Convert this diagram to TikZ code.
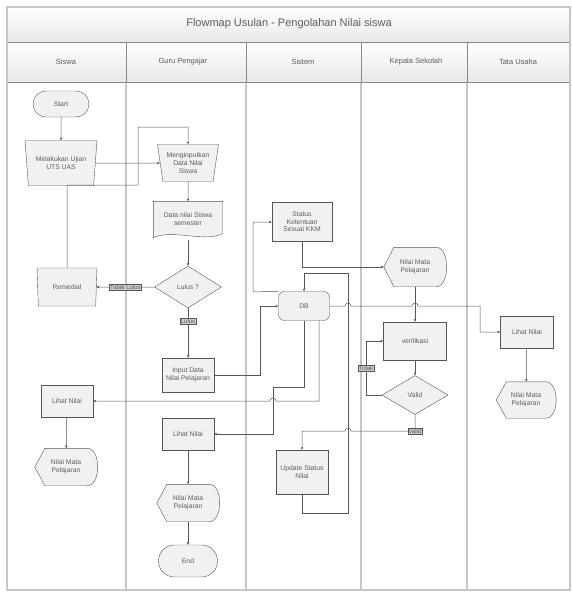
\documentclass[tikz,border=0pt]{standalone}
\usepackage{fontspec}
\setmainfont{Liberation Sans}
\usetikzlibrary{shapes,arrows.meta,backgrounds}

\definecolor{lanegrey}{HTML}{C6C6C6}
\definecolor{boxline}{HTML}{555555}
\definecolor{boxfill}{HTML}{F1F1F1}
\definecolor{txtgrey}{HTML}{5C5C5C}
\definecolor{headfill}{HTML}{E8E8E8}

% outline of a display symbol round a node
\newcommand{\dispshape}[1]{%
  \draw[draw=boxline,fill=boxfill] (#1.west) -- ([xshift=10pt]#1.north west)
    -- ([xshift=-10pt]#1.north east)
    .. controls ([xshift=4pt]#1.north east) and ([xshift=4pt]#1.south east) .. ([xshift=-10pt]#1.south east)
    -- ([xshift=10pt]#1.south west) -- cycle;}
% outline of a document symbol round a node
\newcommand{\docshape}[1]{%
  \draw[draw=boxline,fill=boxfill] (#1.north west) -- (#1.north east) -- ([yshift=3pt]#1.south east)
    .. controls ([xshift=-20pt,yshift=-6pt]#1.south east) and ([xshift=20pt,yshift=8pt]#1.south west) .. ([yshift=-1pt]#1.south west) -- cycle;}

\begin{document}
\begin{tikzpicture}[x=1pt,y=-1pt,
  every node/.style={text=txtgrey,font=\fontsize{6.8}{7.6}\selectfont,align=center},
  proc/.style={draw=boxline,fill=boxfill,rectangle,inner sep=0.5pt},
  term/.style={draw=boxline,fill=boxfill,rounded rectangle,inner sep=1pt},
  manop/.style={draw=boxline,fill=boxfill,trapezium,trapezium angle=75,shape border rotate=180,trapezium stretches body=true,inner sep=0pt},
  decision/.style={draw=boxline,fill=boxfill,diamond,inner sep=0pt},
  store/.style={draw=boxline,fill=boxfill,rectangle,rounded corners=6pt,inner sep=1pt},
  disp/.style={rectangle,inner sep=0pt},
  lbl/.style={draw=boxline,fill=boxfill!85!black,rectangle,inner sep=0.8pt,font=\fontsize{6}{6.5}\selectfont},
  flow/.style={draw=boxline,line width=0.5pt,-{Stealth[length=3pt,width=2.6pt]}}]

  \useasboundingbox (0,0) rectangle (572,592);

  % Swimlanes and heading
  \shade[top color=white,bottom color=headfill] (7,7) rectangle (570,42);
  \shade[top color=white,bottom color=headfill] (7,42) rectangle (570,82);
  \foreach \x in {126,246,361,467}
    \draw[lanegrey,line width=1.3pt] (\x,82) -- (\x,590);
  \foreach \x in {126,246,361,467}
    \draw[boxline!70] (\x,42) -- (\x,82);
  \draw[boxline!70] (7,42) -- (570,42);
  \draw[boxline!70] (7,82) -- (570,82);
  \draw[lanegrey,line width=1.3pt] (7,7) rectangle (570,590);

  \node[font=\fontsize{11}{13}\selectfont] (title) at (289,24) {Flowmap Usulan - Pengolahan Nilai siswa};
  \node[font=\fontsize{7.5}{9}\selectfont] (hsiswa) at (66,62) {Siswa};
  \node[font=\fontsize{7.5}{9}\selectfont] (hguru) at (183,62) {Guru Pengajar};
  \node[font=\fontsize{7.5}{9}\selectfont] (hsistem) at (303,62) {Sistem};
  \node[font=\fontsize{7.5}{9}\selectfont] (hkepsek) at (416,62) {Kepala Sekolah};
  \node[font=\fontsize{7.5}{9}\selectfont] (htu) at (518,62) {Tata Usaha};

  % Specification of nodes (position, etc.)
  \node[term,minimum width=58pt,minimum height=26pt] (start) at (61,104) {Start};
  \node[manop,minimum width=72pt,minimum height=45pt] (ujian) at (61,163) {Melakukan Ujian\\UTS UAS};
  \node[manop,minimum width=61pt,minimum height=37pt] (input) at (188,163) {Menginputkan\\Data Nilai\\Siswa};
  \node[disp,minimum width=69pt,minimum height=35pt] (datanilai) at (188,219) {Data nilai Siswa\\semester};
  \node[decision,minimum width=67pt,minimum height=42pt] (lulus) at (188,287) {Lulus ?};
  \node[manop,minimum width=60pt,minimum height=38pt] (remedial) at (67,287) {Remedial};
  \node[proc,minimum width=52pt,minimum height=34pt] (inputdata) at (188,375) {Input Data\\Nilai Pelajaran};
  \node[store,minimum width=51pt,minimum height=29pt] (db) at (304,306) {DB};
  \node[proc,minimum width=60pt,minimum height=39pt] (status) at (302,222) {Status\\Ketentuan\\Sesuai KKM};
  \node[disp,minimum width=62pt,minimum height=39pt] (nilaiks) at (415,267) {Nilai Mata\\Pelajaran};
  \node[proc,minimum width=63pt,minimum height=38pt] (verif) at (415,341) {verifikasi};
  \node[decision,minimum width=66pt,minimum height=39pt] (valid) at (415,395) {Valid};
  \node[proc,minimum width=52pt,minimum height=44pt] (update) at (302,472) {Update Status\\Nilai};
  \node[proc,minimum width=52pt,minimum height=32pt] (lihatsw) at (67,401) {Lihat Nilai};
  \node[disp,minimum width=62pt,minimum height=37pt] (nilaisw) at (66,467) {Nilai Mata\\Pelajaran};
  \node[proc,minimum width=52pt,minimum height=32pt] (lihatgr) at (188,434) {Lihat Nilai};
  \node[disp,minimum width=62pt,minimum height=37pt] (nilaigr) at (188,503) {Nilai Mata\\Pelajaran};
  \node[term,minimum width=61pt,minimum height=32pt] (finish) at (188,561) {End};
  \node[proc,minimum width=53pt,minimum height=32pt] (lihattu) at (527,332) {Lihat Nilai};
  \node[disp,minimum width=59pt,minimum height=36pt] (nilaitu) at (526,400) {Nilai Mata\\Pelajaran};

  \begin{scope}[on background layer]
    \docshape{datanilai}
    \dispshape{nilaiks}
    \dispshape{nilaisw}
    \dispshape{nilaigr}
    \dispshape{nilaitu}
  \end{scope}

  \begin{scope}[flow]
    \draw (start) -- (ujian);
    \draw (ujian.east) -- (input.west);
    \draw (remedial.north) |- (138,185) |- (188,127) -- (input.north);
    \draw (input) -- (datanilai);
    \draw ([yshift=-3pt]datanilai.south) -- (lulus);
    \draw (lulus.west) -- node[lbl]{Tidak Lulus} (remedial.east);
    \draw (lulus.south) -- node[lbl,pos=0.27]{Lulus} (inputdata.north);
    \draw (inputdata.east) -- (260,375) |- (db.west);
    \draw (db.north west) -- (253,292) |- (status.west);
    \draw (status.south) |- (nilaiks.west);
    \draw (update.south) -- (302,513) -| (348,273) -| (db.north);
    \draw (db.east) -- (345,306) arc[start angle=180,end angle=0,radius=3pt]
      -- (412,306) arc[start angle=180,end angle=0,radius=3pt] -- (480,306) |- (lihattu.west);
    \draw (nilaiks) -- (verif);
    \draw (verif) -- (valid);
    \draw (valid.west) -- (366,395) -- node[lbl]{Tidak} (366,341) -- (verif.west);
    \draw (valid.south) -- (415,431) node[lbl]{Valid} -- (351,431)
      arc[start angle=0,end angle=180,radius=3pt] -- (302,431) -- (update.north);
    \draw ([xshift=15pt]db.south) -- (319,401) -- (276,401)
      arc[start angle=0,end angle=180,radius=3pt] -- (lihatsw.east);
    \draw (db.south) -- (304,387) -| (273,434) -- (lihatgr.east);
    \draw (lihatsw) -- (nilaisw);
    \draw (lihatgr) -- (nilaigr);
    \draw (nilaigr) -- (finish);
    \draw (lihattu) -- (nilaitu);
  \end{scope}

\end{tikzpicture}
\end{document}
